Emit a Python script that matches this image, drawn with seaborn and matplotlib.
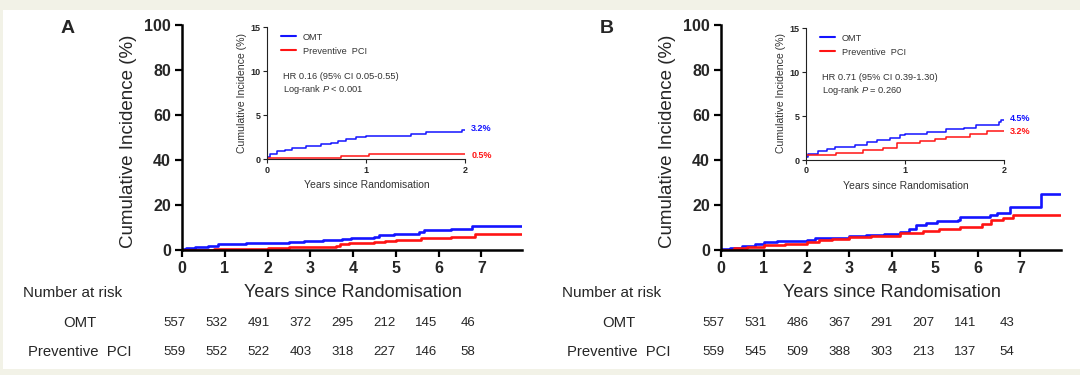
"""Cumulative incidence curves (OMT vs Preventive PCI), two panels with insets."""
import matplotlib
matplotlib.use("Agg")
import matplotlib.pyplot as plt
import matplotlib.transforms as mtransforms
from matplotlib.patches import Rectangle
import pandas as pd
import seaborn as sns

# ---- data ----
groups = ["OMT", "Preventive  PCI"]
colors = {"OMT": "#1414ff", "Preventive  PCI": "#ff1414"}

# Panel A, full follow-up
a_omt_t = [0, 0.1, 0.3, 0.6, 0.85, 1.05, 1.5, 2.0, 2.5, 2.85, 3.3, 3.75, 3.95, 4.5, 4.6, 4.95, 5.55, 5.65, 6.3, 6.78, 7.95]
a_omt_y = [0.3, 0.8, 1.4, 2.0, 2.5, 2.8, 3.0, 3.3, 3.6, 4.0, 4.3, 4.7, 5.2, 5.7, 6.5, 7.2, 7.8, 8.7, 9.5, 10.8, 10.8]
a_pci_t = [0, 0.75, 1.05, 2.0, 2.5, 3.0, 3.6, 3.7, 3.9, 4.5, 4.75, 5.0, 5.6, 6.3, 6.85, 7.95]
a_pci_y = [0.1, 0.3, 0.5, 0.8, 1.2, 1.5, 2.0, 2.5, 3.2, 3.6, 4.2, 4.6, 5.2, 6.0, 7.0, 7.0]

# Panel A, first two years
ai_omt_t = [0, 0.03, 0.1, 0.18, 0.25, 0.4, 0.55, 0.65, 0.72, 0.8, 0.9, 1.0, 1.05, 1.45, 1.6, 1.97, 2.0]
ai_omt_y = [0.3, 0.6, 0.9, 1.1, 1.3, 1.5, 1.7, 1.9, 2.1, 2.3, 2.5, 2.6, 2.7, 2.9, 3.1, 3.3, 3.3]
ai_pci_t = [0, 0.75, 1.03, 2.0]
ai_pci_y = [0.15, 0.4, 0.55, 0.55]

# Panel B, full follow-up
b_omt_t = [0, 0.2, 0.5, 0.8, 1.0, 1.3, 1.7, 2.0, 2.2, 2.6, 3.0, 3.4, 3.8, 4.18, 4.4, 4.57, 4.8, 5.04, 5.55, 5.6, 6.3, 6.45, 6.75, 7.49, 7.93]
b_omt_y = [0.3, 1.0, 1.8, 2.6, 3.4, 3.8, 4.2, 4.6, 5.3, 5.5, 6.1, 6.5, 7.2, 8.1, 9.5, 11.0, 11.8, 12.7, 13.5, 14.8, 15.6, 16.6, 19.0, 25.0, 25.0]
b_pci_t = [0, 0.3, 0.6, 1.0, 1.5, 2.0, 2.3, 2.6, 3.0, 3.5, 4.18, 4.73, 5.1, 5.58, 6.1, 6.32, 6.6, 6.83, 7.93]
b_pci_y = [0.2, 0.8, 1.5, 2.2, 2.8, 3.5, 4.3, 5.0, 5.6, 6.3, 7.4, 8.6, 9.2, 10.4, 11.5, 13.3, 14.2, 15.5, 15.5]

# Panel B, first two years
bi_omt_t = [0, 0.02, 0.12, 0.22, 0.3, 0.5, 0.62, 0.72, 0.85, 0.95, 1.0, 1.22, 1.42, 1.6, 1.72, 1.95, 1.97, 2.0]
bi_omt_y = [0.4, 0.7, 1.0, 1.3, 1.5, 1.7, 2.0, 2.3, 2.5, 2.8, 3.0, 3.2, 3.5, 3.7, 4.0, 4.3, 4.6, 4.6]
bi_pci_t = [0, 0.31, 0.58, 0.78, 0.92, 1.15, 1.3, 1.42, 1.66, 1.83, 2.0]
bi_pci_y = [0.6, 0.85, 1.15, 1.4, 1.9, 2.2, 2.4, 2.6, 3.0, 3.3, 3.3]

risk_years = [0, 1, 2, 3, 4, 5, 6, 7]
a_risk_omt = [557, 532, 491, 372, 295, 212, 145, 46]
a_risk_pci = [559, 552, 522, 403, 318, 227, 146, 58]
b_risk_omt = [557, 531, 486, 367, 291, 207, 141, 43]
b_risk_pci = [559, 545, 509, 388, 303, 213, 137, 54]

a_labels = ["3.2%", "0.5%"]
b_labels = ["4.5%", "3.2%"]
a_stats = ["HR 0.16 (95% CI 0.05-0.55)", "Log-rank $P$ < 0.001"]
b_stats = ["HR 0.71 (95% CI 0.39-1.30)", "Log-rank $P$ = 0.260"]


def make_df(t_omt, y_omt, t_pci, y_pci):
    return pd.concat([
        pd.DataFrame({"years": t_omt, "incidence": y_omt, "group": groups[0]}),
        pd.DataFrame({"years": t_pci, "incidence": y_pci, "group": groups[1]}),
    ], ignore_index=True)


sns.set_theme(style="ticks")
plt.rcParams["font.family"] = ["Liberation Sans", "DejaVu Sans"]
plt.rcParams["mathtext.fontset"] = "custom"
plt.rcParams["mathtext.it"] = "Liberation Sans:italic"
plt.rcParams["mathtext.rm"] = "Liberation Sans"

fig = plt.figure(figsize=(10.8, 3.75), dpi=100)
fig.patch.set_facecolor("#f2f2e7")
fig.patches.append(Rectangle((3 / 1080, 6 / 375), 1 - 3 / 1080, 359 / 375,
                             transform=fig.transFigure, facecolor="white",
                             edgecolor="none", zorder=-1))


def main_panel(left, letter, df, r_omt, r_pci):
    ax = fig.add_axes([left, 0.3333, 0.3148, 0.6])
    ax.set_facecolor("none")
    sns.lineplot(data=df, x="years", y="incidence", hue="group", palette=colors,
                 estimator=None, drawstyle="steps-post", linewidth=1.9,
                 legend=False, ax=ax)
    ax.set_xlim(0, 7.95)
    ax.set_ylim(0, 100)
    ax.set_xticks(range(8))
    ax.set_yticks([0, 20, 40, 60, 80, 100])
    sns.despine(ax=ax)
    for s in ("left", "bottom"):
        ax.spines[s].set_linewidth(1.8)
        ax.spines[s].set_color("black")
    ax.tick_params(direction="out", length=5, width=1.6, color="black",
                   labelsize=11.5, pad=3)
    for lab in ax.get_xticklabels() + ax.get_yticklabels():
        lab.set_fontweight("bold")
    ax.set_ylabel("Cumulative Incidence (%)", fontsize=13.5)
    ax.yaxis.label.set_verticalalignment("center")
    ax.yaxis.set_label_coords(-0.156, 0.484)
    ax.set_xlabel("Years since Randomisation", fontsize=13)
    ax.xaxis.label.set_verticalalignment("center")
    ax.xaxis.set_label_coords(0.504, -0.191)

    tr = mtransforms.blended_transform_factory(ax.transData, ax.transAxes)
    ax.text(-2.55, -0.191, "Number at risk", transform=tr, fontsize=11,
            ha="center", va="center")
    ax.text(-2.39, -0.324, groups[0], transform=tr, fontsize=10.7,
            ha="center", va="center")
    ax.text(-2.39, -0.453, groups[1], transform=tr, fontsize=10.7,
            ha="center", va="center")
    for yr, n1, n2 in zip(risk_years, r_omt, r_pci):
        xpos = yr * 0.98 - 0.17
        ax.text(xpos, -0.324, str(n1), transform=tr, fontsize=9.5,
                ha="center", va="center")
        ax.text(xpos, -0.453, str(n2), transform=tr, fontsize=9.5,
                ha="center", va="center")
    fig.text(left - 0.106, 0.925, letter, fontsize=14, fontweight="bold",
             ha="center", va="center")
    return ax


def inset_panel(rect, df, labels, stats):
    ax = fig.add_axes(rect)
    ax.set_facecolor("white")
    sns.lineplot(data=df, x="years", y="incidence", hue="group", palette=colors,
                 estimator=None, drawstyle="steps-post", linewidth=1.1, ax=ax)
    ax.set_xlim(0, 2)
    ax.set_ylim(0, 15)
    ax.set_xticks([0, 1, 2])
    ax.set_yticks([0, 5, 10, 15])
    sns.despine(ax=ax)
    for s in ("left", "bottom"):
        ax.spines[s].set_linewidth(0.8)
        ax.spines[s].set_color("#222222")
    ax.tick_params(direction="out", length=3, width=0.8, color="#222222",
                   labelsize=6.5, pad=1.5)
    for lab in ax.get_xticklabels() + ax.get_yticklabels():
        lab.set_fontweight("bold")
    ax.set_ylabel("Cumulative Incidence (%)", fontsize=7.6, color="#333333")
    ax.yaxis.label.set_verticalalignment("center")
    ax.yaxis.set_label_coords(-0.125, 0.506)
    ax.set_xlabel("Years since Randomisation", fontsize=7.5, color="#333333")
    ax.xaxis.label.set_verticalalignment("center")
    ax.xaxis.set_label_coords(0.505, -0.195)

    leg = ax.legend(loc="upper left", bbox_to_anchor=(0.07, 0.96), frameon=False,
                    fontsize=6.6, handlelength=1.7, handletextpad=0.7,
                    labelspacing=0.55, borderpad=0, borderaxespad=0, title=None)
    for line in leg.get_lines():
        line.set_linewidth(1.5)
    for t in leg.get_texts():
        t.set_color("#333333")
    ax.text(0.08, 0.625, stats[0], transform=ax.transAxes, fontsize=6.7,
            color="#333333", va="center")
    ax.text(0.08, 0.53, stats[1], transform=ax.transAxes, fontsize=6.7,
            color="#333333", va="center")
    ends = df.groupby("group", sort=False)["incidence"].last()
    for g, lab in zip(groups, labels):
        off = 0.15 if g == groups[0] else -0.1
        ax.text(2.06, ends[g] + off, lab, color=colors[g], fontsize=6.5,
                fontweight="bold", va="center", ha="left", clip_on=False)
    return ax


main_panel(0.1685, "A", make_df(a_omt_t, a_omt_y, a_pci_t, a_pci_y), a_risk_omt, a_risk_pci)
main_panel(0.6676, "B", make_df(b_omt_t, b_omt_y, b_pci_t, b_pci_y), b_risk_omt, b_risk_pci)
inset_panel([0.247, 0.5752, 0.1838, 0.352], make_df(ai_omt_t, ai_omt_y, ai_pci_t, ai_pci_y), a_labels, a_stats)
inset_panel([0.746, 0.5733, 0.1836, 0.3512], make_df(bi_omt_t, bi_omt_y, bi_pci_t, bi_pci_y), b_labels, b_stats)

fig.savefig("out.png", dpi=100, facecolor=fig.get_facecolor())
